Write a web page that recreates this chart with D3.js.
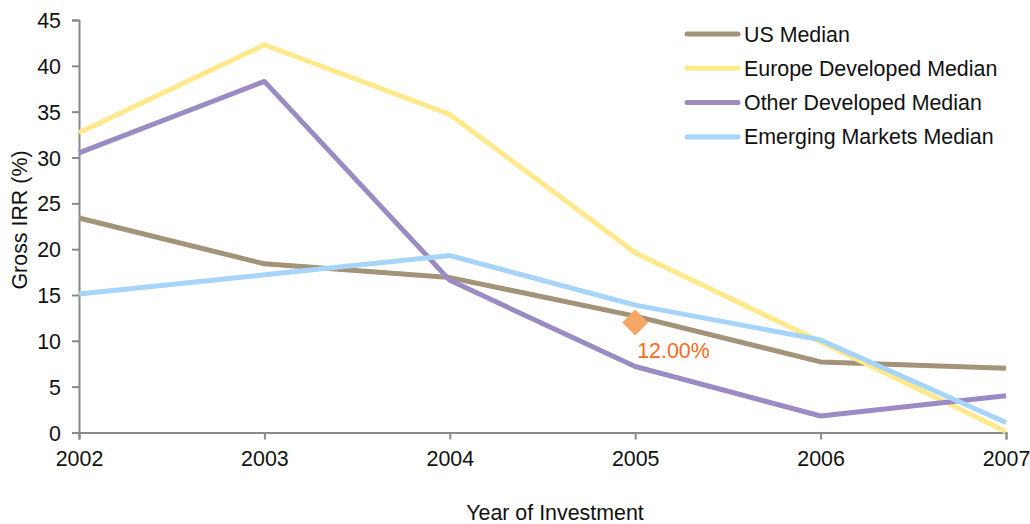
<!DOCTYPE html>
<html><head><meta charset="utf-8">
<script src="https://cdn.jsdelivr.net/npm/d3@7"></script>
<style>body{margin:0;background:#fff}svg{display:block}text{font-family:"Liberation Sans",Arial,sans-serif}</style>
</head><body><svg id="c" width="1030" height="524"></svg>
<script>
const years = [2002, 2003, 2004, 2005, 2006, 2007];
const usMedian = [23.4, 18.4, 16.9, 12.7, 7.7, 7.0];
const europeMedian = [32.7, 42.3, 34.7, 19.6, 9.9, 0.1];
const otherMedian = [30.5, 38.3, 16.6, 7.2, 1.8, 4.0];
const emergingMedian = [15.1, 17.2, 19.3, 13.9, 10.1, 1.1];
const seriesNames = ["US Median", "Europe Developed Median", "Other Developed Median", "Emerging Markets Median"];
const seriesColors = ["#A39379", "#FFE98C", "#9B8BC4", "#A6D4FA"];
const yTicks = [0, 5, 10, 15, 20, 25, 30, 35, 40, 45];
const markerYear = 2005, markerValue = 12.0, markerLabel = "12.00%";

const seriesValues = [usMedian, europeMedian, otherMedian, emergingMedian];
const svg = d3.select("#c");
const x = d3.scaleLinear().domain([2002, 2007]).range([79, 1006]);
const y = d3.scaleLinear().domain([0, 45]).range([432.5, 20]);
const FS = "21.4px";

const ya = svg.append("g").attr("transform", "translate(79,0)")
  .call(d3.axisLeft(y).tickValues(yTicks).tickSize(7).tickPadding(11).tickFormat(d3.format("d")));
const xa = svg.append("g").attr("transform", "translate(0,432.5)")
  .call(d3.axisBottom(x).tickValues(years).tickSize(7).tickPadding(11).tickFormat(d3.format("d")));
[ya, xa].forEach(a => {
  a.selectAll("path,line").attr("stroke", "#8a8a8a").attr("stroke-width", 2);
  a.selectAll("text").attr("fill", "#111").style("font-size", FS).style("font-family", '"Liberation Sans",Arial,sans-serif');
});
ya.selectAll("text").attr("dy", "0.35em");

const line = d3.line().x((d, i) => x(years[i])).y(d => y(d));
seriesValues.forEach((vals, k) => {
  svg.append("path").datum(vals).attr("d", line).attr("fill", "none")
    .attr("stroke", seriesColors[k]).attr("stroke-width", 5)
    .attr("stroke-linejoin", "round");
});

// marker
const mx = x(markerYear), my = y(markerValue), r = 13;
svg.append("path").attr("d", `M${mx},${my - r}L${mx + r},${my}L${mx},${my + r}L${mx - r},${my}Z`).attr("fill", "#F6A766");
svg.append("text").attr("x", mx + 2).attr("y", my + 35).attr("fill", "#FF6A1C").style("font-size", FS).text(markerLabel);

// legend
const lg = svg.append("g");
seriesNames.forEach((n, k) => {
  const ly = 34 + k * 34.3;
  lg.append("line").attr("x1", 687).attr("x2", 738).attr("y1", ly).attr("y2", ly)
    .attr("stroke", seriesColors[k]).attr("stroke-width", 5).attr("stroke-linecap", "round");
  lg.append("text").attr("x", 744).attr("y", ly + 7.5).attr("fill", "#111").style("font-size", FS).text(n);
});

svg.append("text").attr("x", 555).attr("y", 520).attr("text-anchor", "middle").attr("fill", "#111").style("font-size", FS).text("Year of Investment");
svg.append("text").attr("transform", "translate(27,220) rotate(-90)").attr("text-anchor", "middle").attr("fill", "#111").style("font-size", FS).text("Gross IRR (%)");
</script></body></html>
